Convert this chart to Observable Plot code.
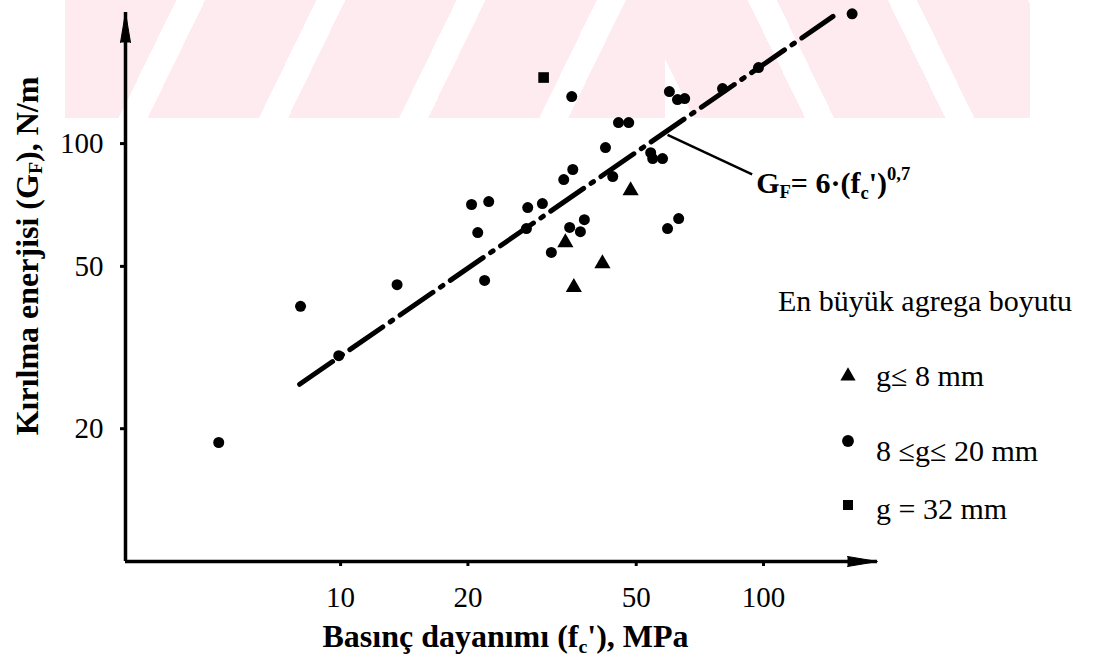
<!DOCTYPE html>
<html>
<head>
<meta charset="utf-8">
<script src="https://cdn.jsdelivr.net/npm/d3@7"></script>
<script src="https://cdn.jsdelivr.net/npm/@observablehq/plot@0.6"></script>
<style>
  html, body { margin: 0; padding: 0; background: #fff; }
  #wrap { position: relative; width: 1101px; height: 661px; overflow: hidden;
          font-family: "Liberation Serif", "DejaVu Serif", "Times New Roman", Tinos, serif; color: #000; }
  .wm { position: absolute; top: 0; height: 118px; }
  #wmL { left: 65px; width: 600px;
        background: repeating-linear-gradient(116deg, #fdebef 0 100px, rgba(255,255,255,0) 100px 126px); }
  #wmR { left: 665px; width: 365px;
        background: repeating-linear-gradient(64deg, rgba(255,255,255,0) 0 26px, #fdebef 26px 126px); }
  #chart { position: absolute; left: 0; top: 0; }
  #legend { position: absolute; left: 0; top: 0; width: 1101px; height: 661px; pointer-events: none; }
  #legend .t { position: absolute; font-size: 30px; white-space: nowrap; line-height: 1; }
  #legend svg { position: absolute; overflow: visible; }
</style>
</head>
<body>
<div id="wrap">
  <div class="wm" id="wmL"></div>
  <div class="wm" id="wmR"></div>
  <div id="chart"></div>
  <div id="legend"></div>
</div>
<script>
// ---- data ----
const circleFc = [5.15, 8.04, 9.9, 13.6, 20.4, 22.4, 21.1, 21.9, 27.7, 30.0, 27.5, 31.5, 34.8, 36.9, 37.7, 33.7, 35.4, 35.2, 42.3, 44.0, 45.4, 48.0, 54.1, 54.7, 57.7, 59.3, 63.0, 59.9, 62.6, 65.1, 80.0, 97.3, 162];
const circleGf = [18.5, 39.9, 30.2, 45.1, 70.9, 72.1, 60.5, 46.2, 69.7, 71.3, 61.9, 54.1, 62.3, 60.8, 65.1, 81.6, 86.4, 130.4, 97.8, 83.0, 112.6, 112.6, 95.0, 91.9, 91.9, 61.9, 65.5, 134.1, 128.2, 128.9, 136.4, 153.6, 208];
const triFc = [34.0, 35.6, 41.6, 48.5];
const triGf = [57.2, 44.4, 50.8, 76.7];
const sqFc = [30.2];
const sqGf = [145.2];
const fitFc = [8, 146];
const fitGf = [25.7, 205];
const xTicks = [10, 20, 50, 100];
const yTicks = [20, 50, 100];
const xDomain = [3.1, 186];
const yDomain = [9.45, 209.6];
const annotFc = [59.3, 94];
const annotGf = [105, 84];
const annotText = "GF= 6·(fc')0,7";
const xTitle = "Basınç dayanımı (fc'), MPa";
const yTitle = "Kırılma enerjisi (GF), N/m";
const legendTitle = "En büyük agrega boyutu";
const legendLabels = ["g≤ 8 mm", "8 ≤g≤ 20 mm", "g = 32 mm"];
const legendSymbols = ["triangle", "circle", "square"];

const circles = circleFc.map((x, i) => ({x, y: circleGf[i]}));
const tris = triFc.map((x, i) => ({x, y: triGf[i]}));
const squares = sqFc.map((x, i) => ({x, y: sqGf[i]}));
const fit = fitFc.map((x, i) => ({x, y: fitGf[i]}));

const FONT = '"Liberation Serif", "DejaVu Serif", "Times New Roman", Tinos, serif';

const plot = Plot.plot({
  width: 1101,
  height: 661,
  marginLeft: 125,
  marginRight: 224,
  marginTop: 12,
  marginBottom: 100,
  x: {type: "log", domain: xDomain},
  y: {type: "log", domain: yDomain},
  style: {fontFamily: FONT, fontSize: "29px", color: "#000", background: "transparent", overflow: "visible"},
  marks: [
    Plot.ruleX([xDomain[0]], {stroke: "#000", strokeWidth: 3.5}),
    Plot.ruleY([yDomain[0]], {stroke: "#000", strokeWidth: 3.5}),
    Plot.vector([0], {x: () => xDomain[0], y: () => yDomain[1], shape: "spike", anchor: "end", length: 30, r: 5, rotate: 0, fill: "#000", stroke: "#000", strokeWidth: 1}),
    Plot.vector([0], {x: () => xDomain[1], y: () => yDomain[0], shape: "spike", anchor: "end", length: 30, r: 5, rotate: 90, fill: "#000", stroke: "#000", strokeWidth: 1}),
    Plot.axisX(xTicks, {tickSize: 5, tickPadding: 20, strokeWidth: 3, tickFormat: d => String(d), label: null, fontFamily: FONT}),
    Plot.axisY(yTicks, {tickSize: 5, tickPadding: 17, strokeWidth: 3, tickFormat: d => String(d), label: null, fontFamily: FONT}),
    Plot.line(fit, {x: "x", y: "y", stroke: "#000", strokeWidth: 5, strokeDasharray: "40,9,3,9", strokeLinecap: "round"}),
    Plot.dot(circles, {x: "x", y: "y", r: 5.5, fill: "#000", symbol: "circle"}),
    Plot.dot(tris, {x: "x", y: "y", r: 6, fill: "#000", symbol: "triangle"}),
    Plot.dot(squares, {x: "x", y: "y", r: 6, fill: "#000", symbol: "square"}),
    Plot.link([0], {x1: () => annotFc[0], y1: () => annotGf[0], x2: () => annotFc[1], y2: () => annotGf[1], stroke: "#000", strokeWidth: 2.5}),
    Plot.text([annotText], {x: () => annotFc[1], y: () => annotGf[1], text: d => d, textAnchor: "start", lineAnchor: "middle", dx: 4, dy: 9, fontWeight: "bold", fontSize: 30, fontFamily: FONT}),
    Plot.text([xTitle], {frameAnchor: "bottom", text: d => d, textAnchor: "middle", lineAnchor: "middle", dx: 4, dy: 75, fontWeight: "bold", fontSize: 32, fontFamily: FONT}),
    Plot.text([yTitle], {frameAnchor: "left", text: d => d, textAnchor: "middle", lineAnchor: "middle", rotate: -90, dx: -98, dy: -31, fontWeight: "bold", fontSize: 32, fontFamily: FONT})
  ]
});

function rich(svg, plain, html) {
  svg.querySelectorAll("text").forEach(t => {
    if (t.textContent === plain) t.innerHTML = html;
  });
}
rich(plot, annotText, 'G<tspan font-size="62%" dy="5">F</tspan><tspan dy="-5">= 6·(f</tspan><tspan font-size="62%" dy="6">c</tspan><tspan dy="-6">\')</tspan><tspan font-size="62%" dy="-13">0,7</tspan>');
rich(plot, xTitle, 'Basınç dayanımı (f<tspan font-size="62%" dy="6">c</tspan><tspan dy="-6">\'), MPa</tspan>');
rich(plot, yTitle, 'Kırılma enerjisi (G<tspan font-size="62%" dy="4">F</tspan><tspan dy="-4">), N/m</tspan>');
document.getElementById("chart").appendChild(plot);

// ---- legend (HTML overlay on the right) ----
const leg = document.getElementById("legend");
const title = document.createElement("div");
title.className = "t";
title.textContent = legendTitle;
title.style.left = "778px";
title.style.top = "286px";
leg.appendChild(title);
const rowTop = [361, 436, 494];
const symTop = [376, 441, 505];
legendLabels.forEach((lab, i) => {
  const t = document.createElement("div");
  t.className = "t";
  t.textContent = lab;
  t.style.left = "876px";
  t.style.top = rowTop[i] + "px";
  leg.appendChild(t);
  const s = d3.create("svg").attr("width", 20).attr("height", 20)
    .style("left", (848 - 10) + "px").style("top", (symTop[i] - 10) + "px");
  const sym = {triangle: d3.symbolTriangle, circle: d3.symbolCircle, square: d3.symbolSquare}[legendSymbols[i]];
  s.append("path").attr("transform", "translate(10,10)")
    .attr("d", d3.symbol(sym, legendSymbols[i] === "circle" ? 110 : 100)()).attr("fill", "#000");
  leg.appendChild(s.node());
});
</script>
</body>
</html>
